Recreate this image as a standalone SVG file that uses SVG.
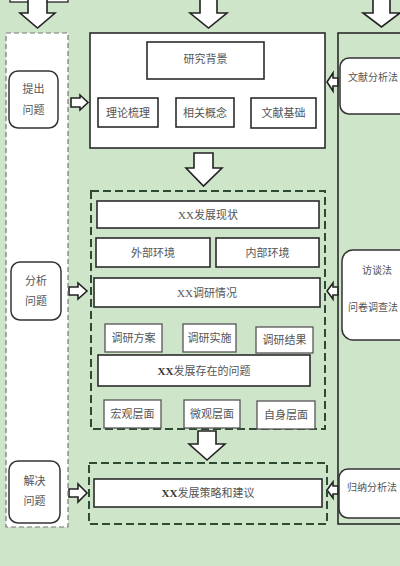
<svg xmlns="http://www.w3.org/2000/svg" width="400" height="566" viewBox="0 0 400 566">
<defs>
<style>
.bg{fill:#cee5ca}
.box{fill:#fff;stroke:#2b2b2b;stroke-width:1.6}
.sbox{fill:#fff;stroke:#555;stroke-width:1.3}
.dash{fill:none;stroke:#2f4a32;stroke-width:2;stroke-dasharray:8 4}
.col{fill:#fff;stroke:#777;stroke-width:1.2;stroke-dasharray:5 3}
.rnd{fill:#fff;stroke:#333;stroke-width:1.5}
.arr{fill:#fff;stroke:#222;stroke-width:1.6;stroke-linejoin:miter}
.t{font-family:"Liberation Serif","Noto Sans CJK SC",serif;font-size:11px;fill:#555;text-anchor:middle;dominant-baseline:central}
.tl{font-family:"Liberation Serif","Noto Sans CJK SC",serif;font-size:10px;fill:#555;dominant-baseline:central}
.b{font-weight:bold;fill:#333}
</style>
</defs>
<rect class="bg" x="0" y="0" width="400" height="566"/>

<g id="topstub"><rect x="10" y="-6" width="58" height="8" fill="#fff" stroke="#333" stroke-width="1.4"/></g>

<g id="connectors">
  <polygon class="arr" points="28,-2 47,-2 47,13 55,13 37.5,28 20,13 28,13"/>
  <polygon class="arr" points="200,-2 217,-2 217,13 227,13 208.5,28 190,13 200,13"/>
  <polygon class="arr" points="373,-2 390,-2 390,13 400,13 381.5,27 363,13 373,13"/>
  <polygon class="arr" points="194,153 213,153 213,168 222,168 203.5,186 186,168 194,168"/>
  <polygon class="arr" points="198,431 216,431 216,444 225,444 207,460 189,444 198,444"/>
  <line x1="34" y1="128" x2="34" y2="262" stroke="#666" stroke-width="1" stroke-dasharray="5 3"/>
  <line x1="34" y1="320" x2="34" y2="458" stroke="#666" stroke-width="1" stroke-dasharray="5 3"/>
  <polygon points="31.5,457 36.5,457 34,461" fill="#444"/>
  <polygon class="arr" points="71,98 80,98 80,95 88,102.5 80,110 80,107 71,107"/>
  <polygon class="arr" points="69,287 78,287 78,283 87,291 78,299 78,295 69,295"/>
  <polygon class="arr" points="69,489 78,489 78,484 87,493 78,502 78,497 69,497"/>
  <polygon class="arr" points="338,78 333,78 333,73 327,82 333,91 333,86 338,86"/>
  <polygon class="arr" points="338,287 333,287 333,283 327,291 333,299 333,295 338,295"/>
  <polygon class="arr" points="338,486 333,486 333,482 327,490 333,498 333,494 338,494"/>
</g>

<g id="col-left">
  <rect class="col" x="6" y="33" width="62" height="494"/>
</g>
<g id="n-tichu"><rect class="rnd" x="9" y="71" width="49" height="57" rx="9"/>
  <text class="t" x="33.5" y="89">提出</text><text class="t" x="33.5" y="110">问题</text></g>
<g id="n-fenxi"><rect class="rnd" x="11" y="262" width="50" height="58" rx="9"/>
  <text class="t" x="36" y="281">分析</text><text class="t" x="36" y="301">问题</text></g>
<g id="n-jiejue"><rect class="rnd" x="9" y="461" width="51" height="62" rx="9"/>
  <text class="t" x="34.5" y="481">解决</text><text class="t" x="34.5" y="501">问题</text></g>

<g id="col-right">
  <rect x="338" y="33" width="80" height="491" fill="none" stroke="#2b2b2b" stroke-width="1.6"/>
</g>
<g id="n-wenxianfa"><rect class="rnd" x="340" y="58" width="80" height="56" rx="9"/>
  <text class="tl" x="348" y="77">文献分析法</text></g>
<g id="n-fangtan"><rect class="rnd" x="342" y="250" width="80" height="90" rx="11"/>
  <text class="tl" x="362" y="270">访谈法</text><text class="tl" x="348" y="307">问卷调查法</text></g>
<g id="n-guina"><rect class="rnd" x="339" y="469" width="80" height="49" rx="9"/>
  <text class="tl" x="347" y="487">归纳分析法</text></g>

<g id="block1">
  <rect class="box" x="90" y="33" width="235" height="115"/>
</g>
<g id="n-beijing"><rect class="box" x="147" y="42" width="117" height="37"/><text class="t" x="205.5" y="59">研究背景</text></g>
<g id="n-lilun"><rect class="box" x="98" y="98" width="60" height="29"/><text class="t" x="128" y="113">理论梳理</text></g>
<g id="n-gainian"><rect class="box" x="176" y="98" width="58" height="29"/><text class="t" x="205" y="113">相关概念</text></g>
<g id="n-jichu"><rect class="box" x="251" y="98" width="65" height="30"/><text class="t" x="283.5" y="113">文献基础</text></g>

<g id="block2">
  <rect class="dash" x="91" y="191" width="234" height="238"/>
</g>
<g id="n-xianzhuang"><rect class="box" x="97" y="201" width="222" height="27"/><text class="t" x="208" y="214.5">XX发展现状</text></g>
<g id="n-waibu"><rect class="box" x="96" y="238" width="114" height="29"/><text class="t" x="153" y="252.5">外部环境</text></g>
<g id="n-neibu"><rect class="box" x="216" y="238" width="103" height="29"/><text class="t" x="267.5" y="252.5">内部环境</text></g>
<g id="n-diaoyan"><rect class="box" x="94" y="278" width="226" height="29"/><text class="t" x="207" y="292.5">XX调研情况</text></g>
<g id="n-fangan"><rect class="sbox" x="105" y="324" width="57" height="28"/><text class="t" x="133.5" y="338">调研方案</text></g>
<g id="n-shishi"><rect class="sbox" x="183" y="324" width="53" height="28"/><text class="t" x="209.5" y="338">调研实施</text></g>
<g id="n-jieguo"><rect class="sbox" x="256" y="327" width="57" height="26"/><text class="t" x="284.5" y="340">调研结果</text></g>
<g id="n-wenti"><rect class="box" x="98" y="355" width="212" height="31"/><text class="t" x="204" y="370.5"><tspan class="b">XX</tspan>发展存在的问题</text></g>
<g id="n-hongguan"><rect class="sbox" x="104" y="400" width="57" height="28"/><text class="t" x="132.5" y="414">宏观层面</text></g>
<g id="n-weiguan"><rect class="sbox" x="184" y="400" width="56" height="28"/><text class="t" x="212" y="414">微观层面</text></g>
<g id="n-zishen"><rect class="sbox" x="257" y="401" width="58" height="28"/><text class="t" x="286" y="415">自身层面</text></g>

<g id="block3">
  <rect class="dash" x="89" y="463" width="238" height="61"/>
</g>
<g id="n-celue"><rect class="box" x="94" y="479" width="228" height="28"/><text class="t" x="208" y="493"><tspan class="b">XX</tspan>发展策略和建议</text></g>
</svg>
